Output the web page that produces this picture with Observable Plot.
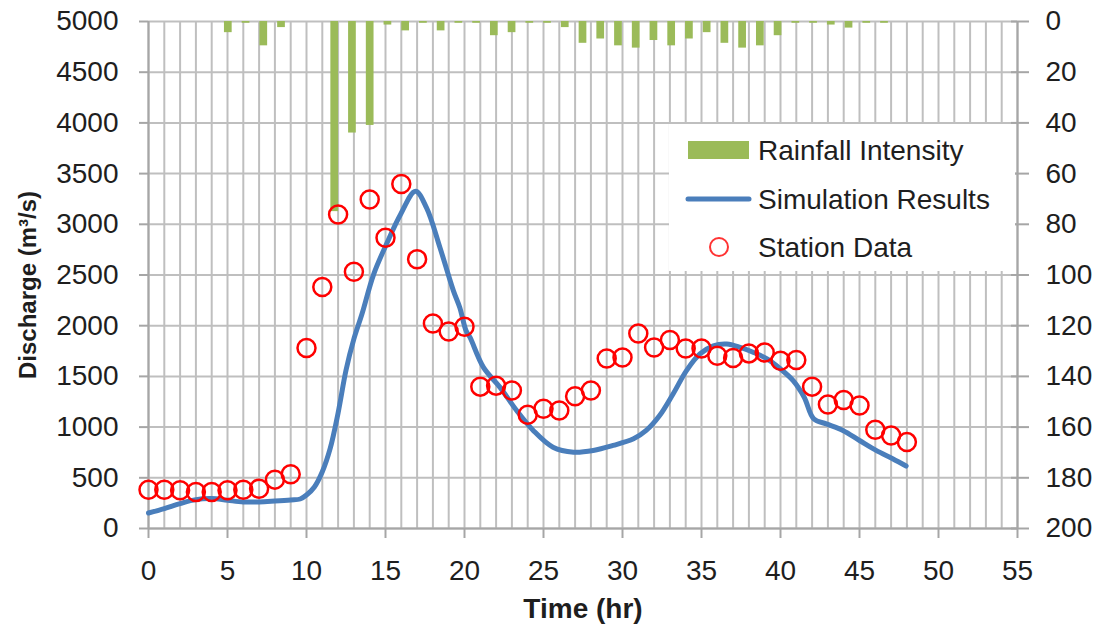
<!DOCTYPE html>
<html><head><meta charset="utf-8">
<script src="https://cdn.jsdelivr.net/npm/d3@7"></script>
<script src="https://cdn.jsdelivr.net/npm/@observablehq/plot@0.6"></script>
<style>
body{margin:0;background:#fff;}
#chart{position:relative;width:1102px;height:636px;}
#chart svg{position:absolute;left:0;top:0;}
</style></head><body><div id="chart"></div>
<script>
// ---------- data ----------
const rainHours = [0,1,2,3,4,5,6,7,8,9,10,11,12,13,14,15,16,17,18,19,20,21,22,23,24,25,26,27,28,29,30,31,32,33,34,35,36,37,38,39,40,41,42,43,44,45,46,47,48];
const rainfall  = [0,0,0,0,4.4,0.7,9.6,2.4,0,0,75,44,41,1.4,3.7,0.7,3.7,0.7,0.7,5.6,4.4,0.7,0.7,2.4,8.6,6.9,9.6,10.5,7.5,9.6,6.9,4.4,8.6,10.5,9.6,5.6,0.7,0.7,1.4,2.6,0.7,0.7,0,0,0,0,0,0,0];

const stationHours = [0,1,2,3,4,5,6,7,8,9,10,11,12,13,14,15,16,17,18,19,20,21,22,23,24,25,26,27,28,29,30,31,32,33,34,35,36,37,38,39,40,41,42,43,44,45,46,47,48];
const stationQ = [383,383,377,360,360,377,383,393,482,534,1780,2382,3097,2533,3245,2867,3398,2655,2022,1943,1989,1399,1409,1360,1121,1180,1163,1304,1360,1677,1687,1923,1786,1858,1776,1776,1704,1681,1727,1736,1655,1662,1399,1222,1268,1212,973,917,852];

const simTime = [0,1,2,3,4,5,6,7,8,9,9.6,10,10.5,11,11.5,12,12.5,13,13.5,14.25,15.1,15.95,16.9,17.6,18.45,19.3,19.7,20.1,20.35,21.2,22.25,23.3,24.35,25.6,26.9,28.15,29.4,30.7,31.5,32.35,33.2,34.05,34.9,35.75,36.6,37.45,38.3,39.15,40,40.8,41.5,42.1,42.9,43.95,45,46.05,47.1,47.95];
const simQ    = [153,197,246,285,295,278,262,262,271,282,291,330,410,560,790,1140,1560,1870,2110,2507,2818,3097,3326,3162,2769,2343,2179,1950,1884,1589,1392,1163,967,802,753,770,819,885,967,1114,1327,1557,1721,1802,1819,1786,1736,1672,1573,1458,1294,1082,1032,967,868,770,688,616];

const xTickLabels = [0,5,10,15,20,25,30,35,40,45,50,55];
const yTickLabels = [0,500,1000,1500,2000,2500,3000,3500,4000,4500,5000];
const rainTickLabels = [0,20,40,60,80,100,120,140,160,180,200];
const gridHours = d3.range(0,56);

// ---------- style ----------
const FONT = '"Liberation Sans", Arial, sans-serif';
const GRID = "#bfbfbf", AXIS = "#a6a6a6", TXT = "#1e1e1e";
const base = {width:1102, height:636, marginLeft:148, marginRight:85, marginTop:21, marginBottom:108,
  style:{background:"transparent", overflow:"visible", fontFamily:FONT}};
const plain = d => String(d);

// layer 1: grid + primary axes
const plotA = Plot.plot({...base,
  x:{domain:[0,55]}, y:{domain:[0,5000]},
  marks:[
    Plot.gridX(gridHours,{stroke:GRID, strokeOpacity:1, strokeWidth:2}),
    Plot.gridY(yTickLabels,{stroke:GRID, strokeOpacity:1, strokeWidth:2}),
    Plot.ruleY([0],{stroke:AXIS, strokeWidth:2}),
    Plot.ruleX([0, 55],{stroke:AXIS, strokeWidth:2}),
    Plot.axisX(xTickLabels,{tickSize:10, tickPadding:22, fontSize:28, stroke:AXIS, strokeWidth:2, fill:TXT, label:null, tickFormat:plain}),
    Plot.axisY(yTickLabels,{anchor:"left", tickSize:9, tickPadding:21, fontSize:28, stroke:AXIS, strokeWidth:2, fill:TXT, label:null, tickFormat:plain}),
    Plot.text(["Time (hr)"],{frameAnchor:"bottom", dy:89, fontSize:28, fontWeight:"bold", fill:TXT}),
    Plot.text(["Discharge (m³/s)"],{frameAnchor:"left", textAnchor:"middle", dx:-120, dy:10, rotate:-90, fontSize:24, fontWeight:"bold", fill:TXT})
  ]
});

// layer 2: rainfall bars on secondary (category / reversed) axes
const plotB = Plot.plot({...base,
  x:{type:"band", domain:rainHours, paddingInner:0.565, paddingOuter:0.2825, axis:null},
  y:{domain:[0,200], reverse:true, axis:null},
  marks:[
    Plot.barY(rainHours,{x:rainHours, y:rainfall, fill:"#9bbb59"}),
    Plot.axisY(rainTickLabels,{anchor:"right", tickSize:18, dx:-7, tickPadding:17, fontSize:28, stroke:AXIS, strokeWidth:2, fill:TXT, label:null, tickFormat:plain})
  ]
});

// layer 3: simulation line + station data
const plotC = Plot.plot({...base,
  x:{domain:[0,55], axis:null}, y:{domain:[0,5000], axis:null},
  marks:[
    Plot.line(simTime,{x:simTime, y:simQ, stroke:"#4a7ebb", strokeWidth:5, curve:"catmull-rom", strokeLinecap:"round", strokeLinejoin:"round"}),
    Plot.dot(stationHours,{x:stationHours, y:stationQ, r:9, stroke:"#ff0000", strokeWidth:2.5, fill:"none"})
  ]
});

const chart = document.getElementById("chart");
chart.append(plotA, plotB, plotC);

// legend
const svg = d3.select(chart).append("svg").attr("width",1102).attr("height",636)
  .style("font-family", FONT);
svg.append("rect").attr("x",669).attr("y",124).attr("width",346).attr("height",147).attr("fill","#fff");
const legendItems = ["Rainfall Intensity","Simulation Results","Station Data"];
const ly = [150, 199, 247];
svg.append("rect").attr("x",688).attr("y",141).attr("width",61).attr("height",18).attr("fill","#9bbb59");
svg.append("line").attr("x1",688).attr("x2",749).attr("y1",199).attr("y2",199)
  .attr("stroke","#4a7ebb").attr("stroke-width",5).attr("stroke-linecap","round");
svg.append("circle").attr("cx",719).attr("cy",247).attr("r",9).attr("fill","none")
  .attr("stroke","#ff3333").attr("stroke-width",2);
legendItems.forEach((t,i)=>{
  svg.append("text").attr("x",758).attr("y",ly[i]).attr("dy","0.35em")
    .attr("font-size",28).attr("fill",TXT).text(t);
});
</script></body></html>
